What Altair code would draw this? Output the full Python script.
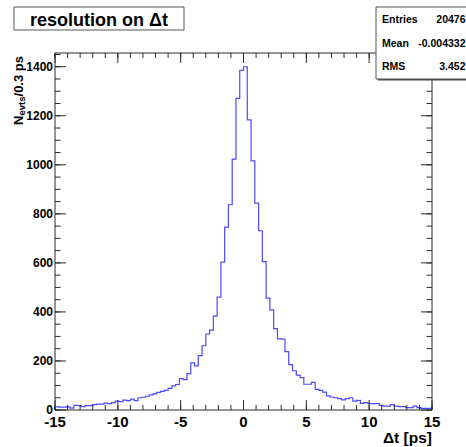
import altair as alt
import pandas as pd

# Delta-t resolution histogram: 100 bins of 0.3 ps from -15 to 15 ps
bin_low = -15.0
bin_width = 0.3
counts = [
    13, 12, 12, 13, 8, 19, 18, 14, 18, 18,
    22, 24, 24, 28, 26, 30, 36, 34, 40, 38,
    44, 38, 50, 52, 56, 62, 66, 72, 76, 80,
    88, 98, 104, 128, 124, 148, 192, 180, 222, 262,
    310, 326, 383, 460, 603, 746, 837, 1023, 1271, 1385,
    1400, 1183, 1016, 844, 731, 605, 456, 408, 332, 290,
    289, 238, 185, 160, 142, 132, 105, 105, 113, 84,
    80, 73, 58, 53, 50, 46, 41, 46, 50, 36,
    39, 27, 30, 26, 26, 26, 19, 16, 16, 22,
    16, 14, 14, 10, 10, 16, 10, 7, 7, 7,
]

x_major = [-15, -10, -5, 0, 5, 10, 15]
x_major_labels = ["-15", "-10", "-5", "0", "5", "10", "15"]
x_minor = list(range(-15, 16))
y_major = [0, 200, 400, 600, 800, 1000, 1200, 1400]
y_major_labels = ["0", "200", "400", "600", "800", "1000", "1200", "1400"]
y_minor = list(range(0, 1451, 50))

plot_title = "resolution on Δt"
x_title = "Δt [ps]"
y_title_main = "N"
y_title_sub = "evts"
y_title_tail = "/0.3 ps"
stat_names = ["Entries", "Mean", "RMS"]
stat_values = ["20476", "-0.004332", "3.452"]

X_DOMAIN = [-15, 15]
Y_DOMAIN = [0, 1456]
W, H = 377, 357
FONT = "Liberation Sans"
LINE = "#4a4aff"
FRAME = "#2a2a2a"

xscale = alt.Scale(domain=X_DOMAIN, nice=False, zero=False)
yscale = alt.Scale(domain=Y_DOMAIN, nice=False, zero=False)

# step outline of the histogram, closed down to zero at both ends
edges = [round(bin_low + bin_width * i, 1) for i in range(len(counts) + 1)]
path_t = [edges[0]] + edges[:-1] + [edges[-1], edges[-1]]
path_n = [0] + counts + [counts[-1], 0]
hist_df = pd.DataFrame({"t": path_t, "n": path_n, "i": list(range(len(path_t)))})

one = pd.DataFrame({"k": [0]})

hist = alt.Chart(hist_df).mark_line(
    interpolate="step-after", color=LINE, strokeWidth=1.2
).encode(
    x=alt.X("t:Q", scale=xscale, axis=None),
    y=alt.Y("n:Q", scale=yscale, axis=None),
    order=alt.Order("i:Q"),
)


def x_ticks(vals, length, top):
    y0 = 0 if top else H
    y1 = length if top else H - length
    return alt.Chart(pd.DataFrame({"t": vals})).mark_rule(
        color=FRAME, strokeWidth=1
    ).encode(
        x=alt.X("t:Q", scale=xscale, axis=None),
        y=alt.value(y0),
        y2=alt.value(y1),
    )


def y_ticks(vals, length, right):
    x0 = W if right else 0
    x1 = W - length if right else length
    return alt.Chart(pd.DataFrame({"n": vals})).mark_rule(
        color=FRAME, strokeWidth=1
    ).encode(
        y=alt.Y("n:Q", scale=yscale, axis=None),
        x=alt.value(x0),
        x2=alt.value(x1),
    )


ticks = [
    x_ticks(x_minor, 5, False), x_ticks(x_major, 10, False),
    x_ticks(x_minor, 5, True), x_ticks(x_major, 10, True),
    y_ticks(y_minor, 5.5, False), y_ticks(y_major, 11, False),
    y_ticks(y_minor, 5.5, True), y_ticks(y_major, 11, True),
]

frame = alt.Chart(one).mark_rect(
    fillOpacity=0, stroke=FRAME, strokeWidth=1
).encode(x=alt.value(0), x2=alt.value(W), y=alt.value(0), y2=alt.value(H))

x_labels = alt.Chart(
    pd.DataFrame({"t": x_major, "lab": x_major_labels})
).mark_text(
    font=FONT, fontWeight="bold", fontSize=15, align="center", baseline="alphabetic"
).encode(
    x=alt.X("t:Q", scale=xscale, axis=None),
    y=alt.value(H + 16.5),
    text="lab:N",
)

y_labels = alt.Chart(
    pd.DataFrame({"n": y_major, "lab": y_major_labels})
).mark_text(
    font=FONT, fontWeight="bold", fontSize=12, align="right", baseline="middle"
).encode(
    y=alt.Y("n:Q", scale=yscale, axis=None),
    x=alt.value(-2),
    text="lab:N",
)

x_title_mark = alt.Chart(one).mark_text(
    font=FONT, fontWeight="bold", fontSize=15.5, align="right", baseline="alphabetic",
    text=x_title,
).encode(x=alt.value(W), y=alt.value(H + 33))

# rotated y title: N with subscript "evts", then "/0.3 ps"
y_title_layers = [
    alt.Chart(one).mark_text(
        font=FONT, fontWeight="bold", fontSize=13, angle=270, align="right",
        baseline="alphabetic", text=y_title_tail,
    ).encode(x=alt.value(-32.5), y=alt.value(3)),
    alt.Chart(one).mark_text(
        font=FONT, fontWeight="bold", fontSize=9.5, angle=270, align="right",
        baseline="alphabetic", text=y_title_sub,
    ).encode(x=alt.value(-30), y=alt.value(43.5)),
    alt.Chart(one).mark_text(
        font=FONT, fontWeight="bold", fontSize=13, angle=270, align="right",
        baseline="alphabetic", text=y_title_main,
    ).encode(x=alt.value(-32.5), y=alt.value(62.5)),
]

title_box = alt.Chart(one).mark_rect(
    fill="white", stroke="#555555", strokeWidth=1
).encode(x=alt.value(-41), x2=alt.value(129), y=alt.value(-46), y2=alt.value(-23))

title_text = alt.Chart(one).mark_text(
    font=FONT, fontWeight="bold", fontSize=18, align="center", baseline="alphabetic",
    text=plot_title,
).encode(x=alt.value(44), y=alt.value(-27))

stats_shadow = alt.Chart(one).mark_rect(fill="#444444").encode(
    x=alt.value(323), x2=alt.value(430), y=alt.value(-44), y2=alt.value(27.5)
)
stats_box = alt.Chart(one).mark_rect(
    fill="white", stroke="#555555", strokeWidth=1
).encode(x=alt.value(321), x2=alt.value(430), y=alt.value(-46), y2=alt.value(26))

stat_rows = []
for row, (name, val) in enumerate(zip(stat_names, stat_values)):
    base_y = -29.7 + row * 23.5
    stat_rows.append(
        alt.Chart(one).mark_text(
            font=FONT, fontWeight="bold", fontSize=10.5, align="left",
            baseline="alphabetic", text=name,
        ).encode(x=alt.value(327), y=alt.value(base_y))
    )
    stat_rows.append(
        alt.Chart(one).mark_text(
            font=FONT, fontWeight="bold", fontSize=10.5, align="right",
            baseline="alphabetic", text=val,
        ).encode(x=alt.value(410.5), y=alt.value(base_y))
    )

chart = alt.layer(
    hist, *ticks, frame, x_labels, y_labels, x_title_mark, *y_title_layers,
    title_box, title_text, stats_shadow, stats_box, *stat_rows,
).properties(
    width=W,
    height=H,
    padding={"left": 55, "top": 53, "right": 34, "bottom": 37},
    autosize=alt.AutoSizeParams(type="none"),
    background="white",
).configure_view(strokeWidth=0)

chart.save("out.html", embed_options={"renderer": "svg", "actions": False})
